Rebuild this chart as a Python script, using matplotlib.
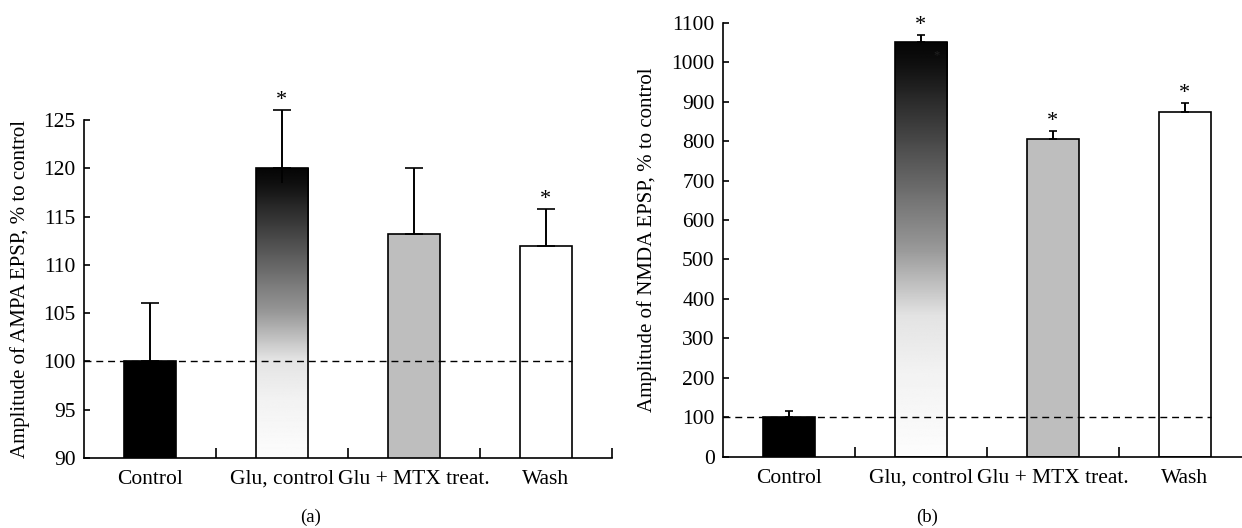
import matplotlib
matplotlib.use("Agg")
import matplotlib.pyplot as plt
from matplotlib.ticker import FixedLocator
import numpy as np

plt.rcParams['font.family'] = ['Liberation Serif', 'DejaVu Serif']

categories = ["Control", "Glu, control", "Glu + MTX treat.", "Wash"]

ampa_mean = [100, 120, 113.2, 112]
ampa_err = [6.1, 6.0, 6.8, 3.8]
ampa_err_low = [0, 1.5, 0, 0]
ampa_sig = [False, True, False, True]

nmda_mean = [100, 1050, 806, 874]
nmda_err = [17, 20, 20, 22]
nmda_err_low = [0, 0, 0, 0]
nmda_sig = [False, True, True, True]

bar_colors = ["black", None, "#bebebe", "white"]   # None -> gradient bar

# grey level down the gradient bar (0 = top, 1 = bottom)
grad_pos = [0, 0.05, 0.25, 0.5, 0.66, 0.8, 1]
grad_val = [0.02, 0.06, 0.3, 0.6, 0.89, 0.95, 0.99]


def draw_panel(ax, means, errs, errs_low, sig, ylim, yticks, ylabel, capsize, label_x):
    x = np.arange(len(categories))
    w = 0.4
    bars = ax.bar(x, means, width=w, color=[c if c else "white" for c in bar_colors],
                  edgecolor="black", linewidth=1.2, zorder=2)
    for b, c in zip(bars, bar_colors):
        if c is None:
            t = np.linspace(0, 1, 300)
            grad = np.interp(t, grad_pos, grad_val).reshape(-1, 1)
            x0 = b.get_x()
            im = ax.imshow(grad, cmap="gray", aspect="auto", vmin=0, vmax=1,
                           extent=(x0, x0 + b.get_width(), ylim[0], b.get_height()),
                           origin="upper", zorder=2.1)
            im.set_clip_path(b)
            b.set_facecolor("none")
            b.set_zorder(2.2)
    ax.errorbar(x, means, yerr=[errs_low, errs], fmt="none",
                ecolor="black", elinewidth=1.2, capsize=0, zorder=3, clip_on=False)
    ax.errorbar(x, means, yerr=[np.zeros(len(errs)), errs], fmt="none",
                ecolor="black", elinewidth=1.2, capsize=capsize, capthick=1.2,
                zorder=3, clip_on=False)
    ax.plot([-0.5, x[-1] + w / 2], [100, 100], color="black", lw=1,
            ls=(0, (5, 3.5)), zorder=4)
    for xi, m, e, s in zip(x, means, errs, sig):
        if s:
            ax.text(xi, m + e, "*", ha="center", va="bottom", fontsize=16,
                    clip_on=False)

    ax.set_xlim(-0.5, 3.5)
    ax.set_ylim(*ylim)
    ax.set_yticks(yticks)
    ax.set_xticks(x)
    ax.set_xticklabels(categories)
    ax.xaxis.set_minor_locator(FixedLocator([0.5, 1.5, 2.5, 3.5]))
    ax.tick_params(axis="x", which="major", length=0, pad=8.5, labelsize=15.5)
    ax.tick_params(axis="x", which="minor", direction="in", length=7, width=1.2)
    ax.tick_params(axis="y", direction="in", length=4.5, width=1.2, pad=6,
                   labelsize=15.5)
    for sp in ["top", "right"]:
        ax.spines[sp].set_visible(False)
    for sp in ["left", "bottom"]:
        ax.spines[sp].set_linewidth(1.2)
    ax.set_ylabel(ylabel, fontsize=15)
    ax.yaxis.set_label_coords(label_x, 0.5)


fig = plt.figure(figsize=(12.42, 5.28), dpi=100)
ax1 = fig.add_axes([0.0676, 0.1326, 0.4251, 0.640])
ax2 = fig.add_axes([0.5821, 0.135, 0.4251, 0.822])

draw_panel(ax1, ampa_mean, ampa_err, ampa_err_low, ampa_sig, (90, 125),
           range(90, 126, 5), "Amplitude of AMPA EPSP, % to control", 6.5, -0.102)
draw_panel(ax2, nmda_mean, nmda_err, nmda_err_low, nmda_sig, (0, 1100),
           range(0, 1101, 100), "Amplitude of NMDA EPSP, % to control", 3.0, -0.125)

# small stray asterisk inside the NMDA "Glu, control" bar
ax2.text(1.12, 1018, "*", ha="center", va="center", fontsize=9, color="#222222",
         zorder=5)

fig.text(311 / 1242, 1 - 517 / 528, "(a)", ha="center", va="center", fontsize=13.5)
fig.text(927 / 1242, 1 - 517 / 528, "(b)", ha="center", va="center", fontsize=13.5)

fig.savefig("out.png", dpi=100)
